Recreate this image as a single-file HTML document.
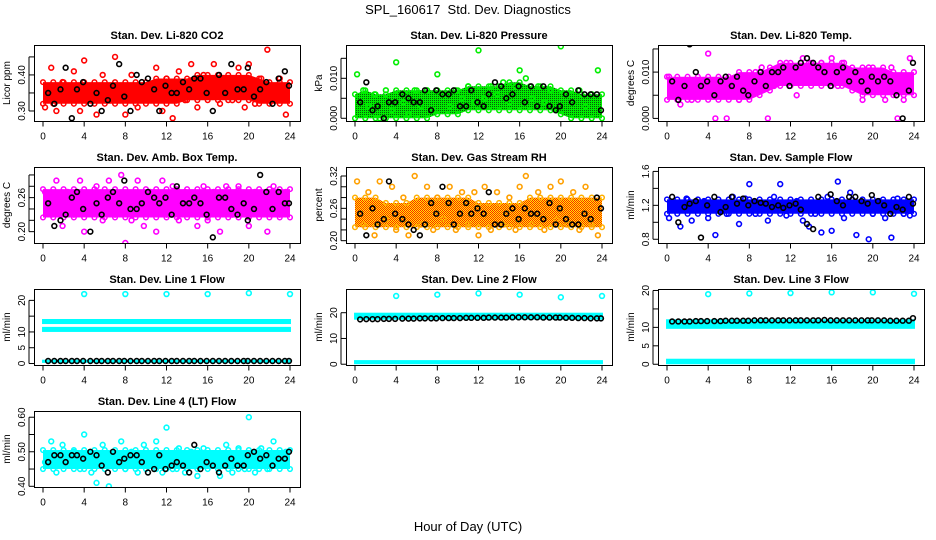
<!DOCTYPE html>
<html><head><meta charset="utf-8"><style>
html,body{margin:0;padding:0;background:#fff;}
svg{display:block;font-family:"Liberation Sans",Arial,sans-serif;}
</style></head><body>
<svg id="chart" width="936" height="540" viewBox="0 0 936 540" xmlns="http://www.w3.org/2000/svg">
<defs>
<pattern id="pGreen" width="2" height="2" patternUnits="userSpaceOnUse"><rect width="2" height="2" fill="#00ee00"/><rect width="1" height="1" fill="#0a5a0a"/></pattern>
<pattern id="pRH" width="2" height="2" patternUnits="userSpaceOnUse"><rect width="2" height="2" fill="#ffee00"/><rect width="1" height="1" fill="#ff2200"/><rect x="1" y="1" width="1" height="1" fill="#ff2200"/></pattern>
</defs>
<text x="468" y="14" text-anchor="middle" font-size="13">SPL_160617&#160; Std. Dev. Diagnostics</text>
<text x="468" y="531" text-anchor="middle" font-size="13">Hour of Day (UTC)</text>
</svg>
<script>
// shared hour arrays
const hoursColor = [0.2,0.8,1.3,1.9,2.4,3.0,3.6,4.0,4.7,5.2,5.8,6.4,7.0,7.6,8.0,8.6,9.2,9.8,10.4,11.0,11.6,12.0,12.6,13.2,13.8,14.4,15.0,15.6,16.0,16.6,17.2,17.8,18.4,19.0,19.6,20.0,20.6,21.2,21.8,22.4,23.0,23.6];
const hoursBlack = [0.5,1.1,1.7,2.2,2.8,3.3,3.9,4.6,5.2,5.7,6.3,6.8,7.4,7.9,8.5,9.1,9.6,10.2,10.8,11.3,11.9,12.5,13.0,13.6,14.2,14.7,15.3,15.9,16.5,17.1,17.7,18.3,18.9,19.5,19.9,20.5,21.1,21.7,22.3,22.9,23.5,23.9];
const hoursBand = [0,1,2,3,4,5,6,7,8,9,10,11,12,13,14,15,16,17,18,19,20,21,22,23,24];
const xTicks = [0,4,8,12,16,20,24];
const hoursOutlier = [4,8,12,16,20,24];

// CO2
const co2Vals = [0.31,0.42,0.30,0.38,0.33,0.41,0.30,0.44,0.36,0.29,0.40,0.33,0.45,0.34,0.29,0.40,0.31,0.37,0.33,0.42,0.30,0.39,0.28,0.41,0.33,0.43,0.31,0.40,0.36,0.43,0.32,0.39,0.33,0.42,0.31,0.43,0.32,0.39,0.47,0.34,0.39,0.29];
const co2Black = [0.35,0.32,0.36,0.42,0.28,0.36,0.38,0.32,0.35,0.30,0.33,0.37,0.43,0.34,0.30,0.40,0.38,0.39,0.36,0.30,0.37,0.35,0.35,0.38,0.36,0.39,0.39,0.35,0.30,0.40,0.35,0.43,0.36,0.36,0.42,0.34,0.36,0.38,0.32,0.39,0.41,0.37];
const co2Lo = [0.32,0.32,0.32,0.32,0.32,0.32,0.32,0.32,0.32,0.32,0.32,0.32,0.32,0.32,0.33,0.33,0.33,0.33,0.33,0.33,0.33,0.32,0.32,0.32,0.32];
const co2Hi = [0.38,0.38,0.38,0.38,0.38,0.38,0.38,0.38,0.38,0.38,0.38,0.39,0.39,0.39,0.39,0.40,0.40,0.40,0.40,0.40,0.40,0.39,0.38,0.38,0.38];
// Pressure
const presVals = [0.011,0.007,0.003,0.006,0.000,0.007,0.002,0.014,0.004,0.001,0.007,0.003,0.007,0.002,0.011,0.006,0.003,0.007,0.005,0.008,0.004,0.017,0.005,0.008,0.006,0.009,0.004,0.008,0.012,0.010,0.005,0.008,0.004,0.007,0.002,0.018,0.006,0.004,0.007,0.003,0.006,0.012];
const presBlack = [0.004,0.009,0.002,0.003,0.000,0.004,0.004,0.006,0.005,0.004,0.004,0.007,0.002,0.007,0.006,0.006,0.007,0.003,0.003,0.007,0.004,0.003,0.006,0.009,0.008,0.005,0.006,0.008,0.004,0.008,0.003,0.008,0.003,0.002,0.003,0.006,0.004,0.007,0.006,0.006,0.006,0.002];
const presLo = [0,0,0,0,0,0,0,0,0.001,0.001,0.001,0.002,0.002,0.002,0.002,0.002,0.002,0.002,0.002,0.002,0.001,0,0,0,0];
const presHi = [0.006,0.007,0.006,0.006,0.007,0.007,0.007,0.007,0.007,0.007,0.007,0.008,0.008,0.008,0.008,0.009,0.009,0.008,0.008,0.008,0.007,0.007,0.006,0.006,0.006];
// Li-820 temp
const tempVals = [0.009,0.006,0.003,0.008,0.004,0.007,0.005,0.014,0.000,0.008,0.000,0.006,0.004,0.009,0.006,0.010,0.011,0.000,0.007,0.011,0.012,0.010,0.005,0.013,0.012,0.009,0.012,0.011,0.013,0.007,0.012,0.009,0.010,0.004,0.011,0.006,0.009,0.004,0.011,0.000,0.004,0.013];
const tempBlack = [0.008,0.004,0.007,0.016,0.010,0.007,0.008,0.005,0.008,0.009,0.007,0.009,0.006,0.005,0.008,0.010,0.007,0.010,0.010,0.011,0.007,0.011,0.012,0.013,0.012,0.011,0.010,0.007,0.010,0.011,0.008,0.010,0.008,0.006,0.009,0.008,0.009,0.008,0.005,0.000,0.006,0.012];
const tempLo = [0.004,0.004,0.004,0.004,0.004,0.004,0.004,0.004,0.004,0.005,0.006,0.007,0.007,0.007,0.007,0.007,0.007,0.007,0.006,0.005,0.005,0.005,0.005,0.005,0.005];
const tempHi = [0.009,0.009,0.009,0.009,0.009,0.009,0.009,0.010,0.010,0.010,0.011,0.012,0.012,0.012,0.012,0.012,0.012,0.012,0.011,0.011,0.011,0.011,0.010,0.010,0.010];
// Amb box temp
const ambVals = [0.27,0.23,0.29,0.21,0.27,0.23,0.29,0.20,0.26,0.28,0.22,0.29,0.23,0.30,0.18,0.22,0.29,0.21,0.27,0.20,0.29,0.23,0.28,0.22,0.27,0.24,0.21,0.28,0.22,0.27,0.20,0.28,0.23,0.28,0.24,0.21,0.27,0.24,0.20,0.28,0.23,0.27];
const ambBlack = [0.25,0.21,0.22,0.23,0.26,0.27,0.24,0.20,0.25,0.23,0.26,0.27,0.25,0.29,0.24,0.24,0.25,0.27,0.26,0.25,0.26,0.23,0.28,0.25,0.25,0.26,0.25,0.23,0.19,0.26,0.26,0.24,0.23,0.25,0.22,0.24,0.30,0.27,0.24,0.27,0.25,0.25];
const ambLo = [0.225,0.225,0.225,0.225,0.225,0.225,0.225,0.225,0.225,0.225,0.225,0.225,0.225,0.225,0.225,0.225,0.225,0.225,0.225,0.225,0.225,0.225,0.225,0.225,0.225];
const ambHi = [0.275,0.275,0.275,0.275,0.275,0.275,0.275,0.275,0.275,0.275,0.275,0.275,0.275,0.275,0.275,0.275,0.275,0.275,0.275,0.275,0.275,0.275,0.275,0.275,0.275];
// Gas stream RH
const rhVals = [0.31,0.23,0.29,0.21,0.31,0.24,0.30,0.22,0.28,0.21,0.32,0.23,0.30,0.22,0.28,0.24,0.30,0.22,0.29,0.23,0.29,0.21,0.30,0.22,0.29,0.23,0.28,0.22,0.30,0.32,0.23,0.29,0.22,0.30,0.24,0.31,0.23,0.29,0.22,0.30,0.23,0.21];
const rhBlack = [0.25,0.21,0.26,0.23,0.24,0.31,0.25,0.24,0.23,0.22,0.21,0.23,0.27,0.25,0.30,0.27,0.23,0.25,0.27,0.25,0.26,0.25,0.29,0.23,0.23,0.25,0.26,0.24,0.26,0.25,0.25,0.24,0.27,0.23,0.26,0.24,0.23,0.23,0.25,0.24,0.28,0.26];
const rhLo = [0.225,0.225,0.225,0.225,0.225,0.225,0.225,0.225,0.225,0.225,0.225,0.225,0.225,0.225,0.225,0.225,0.225,0.225,0.225,0.225,0.225,0.225,0.225,0.225,0.225];
const rhHi = [0.28,0.28,0.28,0.27,0.27,0.27,0.28,0.28,0.28,0.28,0.28,0.28,0.27,0.27,0.27,0.27,0.27,0.28,0.28,0.28,0.28,0.28,0.28,0.28,0.28];
// Sample flow
const flowVals = [1.05,1.22,0.95,1.28,1.02,1.18,1.25,1.05,0.85,1.20,1.10,1.30,0.98,1.28,1.45,1.10,1.22,1.02,1.30,1.45,1.08,1.18,1.25,1.02,0.95,1.10,0.88,1.30,0.90,1.48,1.05,1.35,0.85,1.20,0.80,1.10,1.25,1.05,0.82,1.28,1.10,1.08];
const flowBlack = [1.30,1.00,1.18,1.22,1.25,0.82,1.20,1.30,1.12,1.18,1.30,1.22,1.28,1.20,1.25,1.23,1.22,1.18,1.20,1.17,1.20,1.22,1.15,0.98,0.92,1.30,1.68,1.33,1.25,1.20,1.30,1.30,1.25,1.22,1.32,1.25,1.20,1.10,1.18,1.15,1.30,1.22];
const flowLo = [1.10,1.10,1.10,1.10,1.10,1.10,1.10,1.10,1.10,1.10,1.10,1.10,1.10,1.10,1.10,1.10,1.10,1.10,1.10,1.10,1.10,1.10,1.10,1.10,1.10];
const flowHi = [1.27,1.27,1.27,1.27,1.27,1.27,1.27,1.27,1.27,1.27,1.27,1.27,1.27,1.27,1.27,1.27,1.27,1.27,1.27,1.27,1.27,1.27,1.27,1.27,1.27];
// Line 1
const line1BandLo = [12.5,10.0,0.2];
const line1BandHi = [14.1,11.6,1.2];
const line1Outliers = [22,22,22,22,22.3,22];
const line1Black = [0.8,0.8,0.8,0.8,0.8,0.8,0.8,0.8,0.8,0.8,0.8,0.8,0.8,0.8,0.8,0.8,0.8,0.8,0.8,0.8,0.8,0.8,0.8,0.8,0.8,0.8,0.8,0.8,0.8,0.8,0.8,0.8,0.8,0.8,0.8,0.8,0.8,0.8,0.8,0.8,0.8,0.8];
// Line 2
const line2BandLo = [17.3,0.0];
const line2BandHi = [20.0,1.6];
const line2Outliers = [26.5,27,27.5,27,26,26.5];
const line2Black = [17.4,17.5,17.5,17.5,17.6,17.6,17.6,17.7,17.7,17.7,17.8,17.8,17.8,17.8,17.9,17.9,17.9,17.9,18.0,18.0,18.0,18.0,18.1,18.1,18.1,18.1,18.2,18.2,18.2,18.2,18.2,18.1,18.1,18.1,18.1,18.0,18.0,17.9,17.9,17.8,17.8,17.8];
// Line 3
const line3BandLo = [9.6,0.0];
const line3BandHi = [12.2,1.5];
const line3Outliers = [19.0,19.2,19.3,19.5,19.5,19.1];
const line3Black = [11.6,11.6,11.6,11.6,11.7,11.7,11.7,11.7,11.7,11.8,11.8,11.8,11.8,11.8,11.9,11.9,11.9,11.9,11.9,11.9,11.9,11.9,11.9,11.9,11.9,11.9,12.0,11.9,11.9,11.9,11.9,11.9,11.9,11.9,11.9,11.9,11.9,11.8,11.8,11.8,11.8,12.5];
// Line 4
const line4Vals = [0.47,0.53,0.44,0.52,0.46,0.50,0.45,0.55,0.44,0.41,0.52,0.40,0.46,0.53,0.45,0.50,0.44,0.52,0.46,0.53,0.44,0.57,0.45,0.51,0.44,0.50,0.43,0.51,0.46,0.49,0.43,0.52,0.44,0.51,0.45,0.60,0.44,0.51,0.45,0.53,0.46,0.50];
const line4Black = [0.47,0.49,0.49,0.47,0.49,0.49,0.48,0.50,0.49,0.46,0.44,0.50,0.47,0.48,0.49,0.49,0.47,0.44,0.45,0.49,0.45,0.46,0.47,0.46,0.44,0.52,0.45,0.47,0.46,0.44,0.46,0.48,0.46,0.46,0.49,0.50,0.48,0.49,0.46,0.48,0.48,0.50];
const line4Lo = [0.45,0.45,0.45,0.45,0.45,0.45,0.45,0.45,0.45,0.45,0.45,0.45,0.45,0.45,0.45,0.45,0.45,0.45,0.45,0.45,0.45,0.45,0.45,0.45,0.45];
const line4Hi = [0.505,0.505,0.505,0.505,0.505,0.505,0.505,0.505,0.505,0.505,0.505,0.505,0.505,0.505,0.505,0.505,0.505,0.505,0.505,0.505,0.505,0.505,0.505,0.505,0.505];

const svg = document.getElementById('chart');
const NS = 'http://www.w3.org/2000/svg';
function mk(tag, attrs, parent){
  const e = document.createElementNS(NS, tag);
  for (const k in attrs) e.setAttribute(k, attrs[k]);
  (parent||svg).appendChild(e);
  return e;
}

function panel(cfg){
  const left = 34 + cfg.col*312, top = 45 + cfg.row*122, W = 266, H = 76;
  const g = mk('g', {});
  
  
  const xs = h => left + 9 + h*(247/24);
  const ys = v => top + H - (v - cfg.yMin)/(cfg.yMax - cfg.yMin)*H;
  const clip = 'clip-' + cfg.name;
  const cp = mk('clipPath', {id: clip}, g);
  mk('rect', {x:left, y:top, width:W, height:H}, cp);
  const plot = mk('g', {'clip-path':'url(#'+clip+')'}, g);
  if (cfg.bandLo){
    let d = '';
    cfg.bandHours.forEach((h,i)=>{ d += (i?'L':'M') + xs(h).toFixed(1)+','+ys(cfg.bandHi[i]).toFixed(1); });
    for (let i=cfg.bandHours.length-1;i>=0;i--) d += 'L'+xs(cfg.bandHours[i]).toFixed(1)+','+ys(cfg.bandLo[i]).toFixed(1);
    const b = mk('path', {d:d+'Z', fill:cfg.bandFill}, plot);
    
    
    cfg.bandHours.forEach((h,i)=>{
      mk('circle',{cx:xs(h),cy:ys(cfg.bandHi[i]),r:2.3,fill:'none',stroke:cfg.color,'stroke-width':1.5},plot);
      mk('circle',{cx:xs(h),cy:ys(cfg.bandLo[i]),r:2.3,fill:'none',stroke:cfg.color,'stroke-width':1.5},plot);
    });
  }
  if (cfg.lineLo){
    cfg.lineLo.forEach((lo,i)=>{
      const hi = cfg.lineHi[i];
      const r = mk('rect',{x:xs(0.1)-2,y:ys(hi),width:xs(23.9)-xs(0.1)+4,height:Math.max(3,ys(lo)-ys(hi)),fill:cfg.color},plot);
      
      
    });
  }
  if (cfg.vals){
    cfg.vals.forEach((v,i)=>{
      const c = mk('circle',{cx:xs(hoursColor[i]),cy:ys(v),r:2.4,fill:'none',stroke:cfg.pointStroke||cfg.color,'stroke-width':1.6},plot);
      
      
    });
  }
  if (cfg.outliers){
    cfg.outliers.forEach((v,i)=>{
      const c = mk('circle',{cx:xs(hoursOutlier[i]),cy:ys(v),r:2.4,fill:'none',stroke:cfg.color,'stroke-width':1.6},plot);
      
      
    });
  }
  if (cfg.black){
    cfg.black.forEach((v,i)=>{
      const c = mk('circle',{cx:xs(hoursBlack[i]),cy:ys(v),r:2.4,fill:'none',stroke:'#000','stroke-width':1.6},plot);
      
      
    });
  }
  mk('rect',{x:left+0.5,y:top+0.5,width:W,height:H,fill:'none',stroke:'#000','stroke-width':1},g);
  const t = mk('text',{x:left+W/2,y:top-6,'text-anchor':'middle','font-size':11,'font-weight':'bold'},g);
  t.textContent = cfg.title;
  
  
  const by = top + H + 0.5;
  xTicks.forEach(h=>{
    mk('line',{x1:xs(h),x2:xs(h),y1:by,y2:by+5,stroke:'#000'},g);
    const l = mk('text',{x:xs(h),y:by+18,'text-anchor':'middle','font-size':10},g);
    l.textContent = h;
    
    
  });
  const ty = cfg.yTicks;
  mk('line',{x1:left-5,x2:left-5,y1:ys(ty[0]),y2:ys(ty[ty.length-1]),stroke:'#000'},g);
  ty.forEach((v,i)=>{
    mk('line',{x1:left-5,x2:left,y1:ys(v),y2:ys(v),stroke:'#000'},g);
    if (cfg.yLabels[i]){
      const l = mk('text',{x:0,y:0,'text-anchor':'middle','font-size':10,transform:'translate('+(left-9)+','+ys(v)+') rotate(-90)'},g);
      l.textContent = cfg.yLabels[i];
      
      
    }
  });
  const yt = mk('text',{x:0,y:0,'text-anchor':'middle','font-size':10,transform:'translate('+(left-24)+','+(top+H/2)+') rotate(-90)'},g);
  yt.textContent = cfg.yTitle;
  
  
}

panel({name:'panel-co2',row:0,col:0,title:'Stan. Dev. Li-820 CO2',yTitle:'Licor ppm',yMin:0.2722,yMax:0.483,
  yTicks:[0.30,0.35,0.40,0.45],yLabels:['0.30','','0.40',''],color:'#ff0000',bandFill:'#ff0000',
  bandHours:hoursBand,bandLo:co2Lo,bandHi:co2Hi,vals:co2Vals,black:co2Black});
panel({name:'panel-pressure',row:0,col:1,title:'Stan. Dev. Li-820 Pressure',yTitle:'kPa',yMin:-0.00068,yMax:0.01833,
  yTicks:[0,0.005,0.010,0.015],yLabels:['0.000','','0.010',''],color:'#00ee00',bandFill:'url(#pGreen)',
  bandHours:hoursBand,bandLo:presLo,bandHi:presHi,vals:presVals,black:presBlack});
panel({name:'panel-li820-temp',row:0,col:2,title:'Stan. Dev. Li-820 Temp.',yTitle:'degrees C',yMin:-0.00056,yMax:0.01585,
  yTicks:[0,0.005,0.010,0.015],yLabels:['0.000','','0.010',''],color:'#ff00ff',bandFill:'#ff00ff',
  bandHours:hoursBand,bandLo:tempLo,bandHi:tempHi,vals:tempVals,black:tempBlack});
panel({name:'panel-amb-box-temp',row:1,col:0,title:'Stan. Dev. Amb. Box Temp.',yTitle:'degrees C',yMin:0.18,yMax:0.314,
  yTicks:[0.20,0.22,0.24,0.26,0.28,0.30],yLabels:['0.20','','','0.26','',''],color:'#ff00ff',bandFill:'#ff00ff',
  bandHours:hoursBand,bandLo:ambLo,bandHi:ambHi,vals:ambVals,black:ambBlack});
panel({name:'panel-gas-rh',row:1,col:1,title:'Stan. Dev. Gas Stream RH',yTitle:'percent',yMin:0.1957,yMax:0.3367,
  yTicks:[0.20,0.22,0.24,0.26,0.28,0.30,0.32],yLabels:['0.20','','','0.26','','','0.32'],color:'#ffb000',pointStroke:'#ffa000',bandFill:'url(#pRH)',
  bandHours:hoursBand,bandLo:rhLo,bandHi:rhHi,vals:rhVals,black:rhBlack});
panel({name:'panel-sample-flow',row:1,col:2,title:'Stan. Dev. Sample Flow',yTitle:'ml/min',yMin:0.756,yMax:1.652,
  yTicks:[0.8,1.0,1.2,1.4,1.6],yLabels:['0.8','','1.2','','1.6'],color:'#0000ff',bandFill:'#0000ff',
  bandHours:hoursBand,bandLo:flowLo,bandHi:flowHi,vals:flowVals,black:flowBlack});
panel({name:'panel-line1-flow',row:2,col:0,title:'Stan. Dev. Line 1 Flow',yTitle:'ml/min',yMin:-0.47,yMax:23.6,
  yTicks:[0,5,10,15,20],yLabels:['0','5','10','','20'],color:'#00ffff',
  lineLo:line1BandLo,lineHi:line1BandHi,outliers:line1Outliers,black:line1Black});
panel({name:'panel-line2-flow',row:2,col:1,title:'Stan. Dev. Line 2 Flow',yTitle:'ml/min',yMin:-0.3,yMax:29.2,
  yTicks:[0,10,20],yLabels:['0','10','20'],color:'#00ffff',
  lineLo:line2BandLo,lineHi:line2BandHi,outliers:line2Outliers,black:line2Black});
panel({name:'panel-line3-flow',row:2,col:2,title:'Stan. Dev. Line 3 Flow',yTitle:'ml/min',yMin:-0.2,yMax:20.4,
  yTicks:[0,5,10,15,20],yLabels:['0','5','10','','20'],color:'#00ffff',
  lineLo:line3BandLo,lineHi:line3BandHi,outliers:line3Outliers,black:line3Black});
panel({name:'panel-line4-flow',row:3,col:0,title:'Stan. Dev. Line 4 (LT) Flow',yTitle:'ml/min',yMin:0.398,yMax:0.618,
  yTicks:[0.40,0.45,0.50,0.55,0.60],yLabels:['0.40','','0.50','','0.60'],color:'#00ffff',bandFill:'#00ffff',
  bandHours:hoursBand,bandLo:line4Lo,bandHi:line4Hi,vals:line4Vals,black:line4Black});
</script>
</body></html>
